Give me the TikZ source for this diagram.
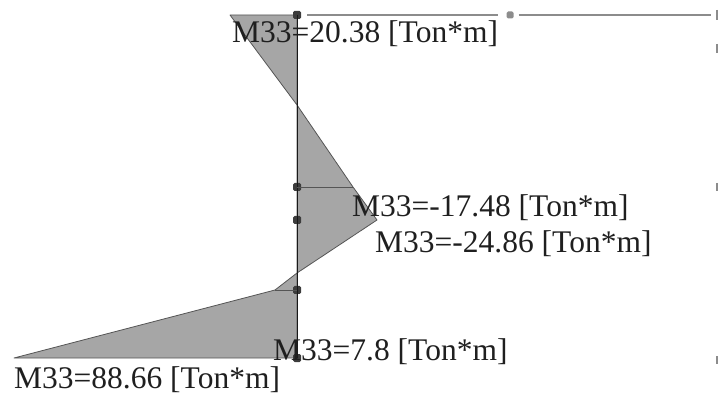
\documentclass[tikz,border=0pt]{standalone}
\usepackage{fontspec}
\setmainfont{Liberation Serif}
\definecolor{mfill}{HTML}{A6A6A6}
\definecolor{medge}{HTML}{555555}
\definecolor{dotc}{HTML}{3C3C3C}
\definecolor{linec}{HTML}{8C8C8C}
\tikzset{
  dotnode/.style={fill=dotc,rectangle,rounded corners=1.5pt,inner sep=0pt,minimum size=8pt},
  greydot/.style={fill=linec,rectangle,rounded corners=1.5pt,inner sep=0pt,minimum size=7pt},
  area/.style={fill=mfill,draw=medge,line width=0.8pt,line join=round},
  lbl/.style={anchor=base west,inner sep=0pt,font=\fontsize{31.5}{36}\selectfont,text=black!88},
  memb/.style={draw=black!90,line width=1pt},
  guide/.style={draw=linec,line width=1.5pt},
  tick/.style={draw=linec,line width=1.5pt}
}
\begin{document}
\begin{tikzpicture}[x=1pt,y=-1pt]
\useasboundingbox (0,0) rectangle (718,398);
% diagram points
\coordinate (t0) at (230,15);
\coordinate (n1) at (297,15);
\coordinate (z1) at (297,105);
\coordinate (p2) at (353,187);
\coordinate (p3) at (377,220);
\coordinate (z2) at (297,273);
\coordinate (p4) at (275,290);
\coordinate (p5) at (14,358);
\coordinate (n5) at (297,358);
% moment areas
\path[area] (t0) -- (n1) -- (z1) -- cycle;
\path[area] (z1) -- (p2) -- (p3) -- (z2) -- cycle;
\path[area] (z2) -- (p4) -- (p5) -- (n5) -- cycle;
% member and nodes
\node[dotnode] (a) at (297,15) {};
\node[dotnode] (b) at (297,187) {};
\node[dotnode] (c) at (297,220) {};
\node[dotnode] (d) at (297,290) {};
\node[dotnode] (e) at (297,358) {};
\node[greydot] (g) at (510,15) {};
\coordinate (r) at (711,15);
\draw[memb] (a.center) -- (e.center);
\draw[draw=medge,line width=0.8pt] (b.center) -- (p2);
\draw[draw=medge,line width=0.8pt] (d.center) -- (p4);
\draw[guide,shorten <=6pt,shorten >=8pt] (a) -- (g);
\draw[guide,shorten <=5pt] (g) -- (r);
% edge ticks
\coordinate (k1a) at (717,10); \coordinate (k1b) at (717,20);
\coordinate (k2a) at (717,44); \coordinate (k2b) at (717,53);
\coordinate (k3a) at (717,183); \coordinate (k3b) at (717,191);
\coordinate (k4a) at (717,356); \coordinate (k4b) at (717,364);
\draw[tick] (k1a) -- (k1b);
\draw[tick] (k2a) -- (k2b);
\draw[tick] (k3a) -- (k3b);
\draw[tick] (k4a) -- (k4b);
% labels
\node[lbl] (l1) at (232,43) {M33=20.38 [Ton*m]};
\node[lbl] (l2) at (352,217) {M33=-17.48 [Ton*m]};
\node[lbl] (l3) at (375,253) {M33=-24.86 [Ton*m]};
\node[lbl] (l4) at (273,360) {M33=7.8 [Ton*m]};
\node[lbl] (l5) at (14,388) {M33=88.66 [Ton*m]};
\end{tikzpicture}
\end{document}
